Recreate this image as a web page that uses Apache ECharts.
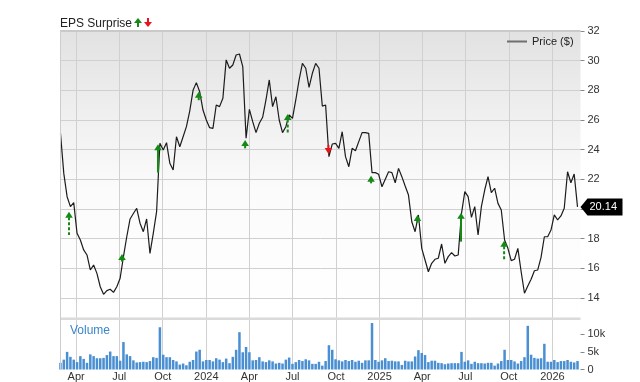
<!DOCTYPE html>
<html><head><meta charset="utf-8">
<script src="https://cdn.jsdelivr.net/npm/echarts@6/dist/echarts.min.js"></script>
<style>html,body{margin:0;padding:0;background:#fff}#c{width:640px;height:382px}</style>
</head><body><div id="c"></div>
<script>
// ---- data ----
const firstWeek = '2023-02-27';   // weekly observations start here
const prices = [
 25.1,22.4,20.83,20.16,20.43,18.36,17.91,17.24,16.9,15.89,
 16.22,15.66,14.76,14.25,14.5,14.59,14.38,14.76,15.33,16.79,
 18.13,19.33,19.7,20.05,19.04,18.47,19.33,17.01,18.36,19.82,
 24.43,23.98,24.47,23.08,22.63,24.87,24.2,24.87,25.55,26.6,
 28.0,28.52,27.91,26.67,26.0,25.48,25.44,27.01,26.9,27.46,
 30.05,29.49,29.71,30.38,30.45,29.6,24.77,26.72,25.89,25.15,
 25.78,26.18,27.35,28.7,26.9,27.57,26.0,25.15,25.55,26.34,
 26.11,27.35,28.7,29.82,29.49,28.2,29.15,29.82,29.49,26.94,
 27.01,23.53,24.38,24.43,24.09,25.21,23.53,22.85,24.09,23.93,
 24.54,25.15,25.15,25.1,22.45,22.45,22.34,21.5,22.0,22.51,
 22.45,21.77,22.74,22.18,21.55,20.94,19.14,18.47,19.6,17.35,
 16.56,15.77,16.34,16.61,16.68,17.64,16.34,16.79,17.06,16.83,
 16.9,19.71,21.17,20.83,19.44,20.16,18.25,20.16,21.28,22.18,
 21.1,21.4,20.38,19.93,17.91,17.35,16.52,16.61,17.35,15.77,
 14.32,14.81,15.26,15.84,15.89,16.74,18.13,18.13,18.58,19.6,
 19.26,19.53,20.05,22.51,21.77,22.36,20.14
];
const volumesK = [
 1.9,2.8,5.0,3.6,2.8,2.1,3.8,3.0,1.9,4.3,
 3.8,3.2,3.2,3.3,4.1,5.1,3.8,3.8,2.5,7.8,
 4.3,3.8,2.6,2.0,2.1,2.2,2.1,2.4,3.5,3.3,
 12.0,4.2,3.5,3.5,2.7,2.3,1.4,1.7,1.2,2.2,
 2.7,5.1,5.6,2.3,2.7,2.7,2.3,3.2,2.8,2.1,
 3.1,1.8,3.6,5.6,10.6,4.9,6.4,4.9,2.6,2.7,
 3.5,2.3,2.1,2.6,2.3,1.7,1.9,1.7,2.8,3.4,
 1.6,2.1,2.7,2.4,2.9,2.6,1.6,1.6,2.2,
 1.1,2.4,6.9,5.6,2.9,2.6,2.3,2.7,2.4,2.7,2.2,2.5,1.9,2.6,2.6,
 13.2,
 2.7,2.2,2.6,3.2,2.4,2.5,2.3,2.3,1.3,2.5,
 2.3,2.3,3.7,5.5,4.7,4.1,2.1,2.5,2.5,1.9,
 1.8,1.5,1.7,1.8,1.8,1.8,5.0,2.2,2.6,1.6,
 2.2,1.8,1.8,1.7,1.9,1.9,1.1,1.7,2.4,5.6,
 2.7,2.7,2.3,1.7,2.4,3.5,12.4,4.2,3.3,3.1,3.2,
 7.3,
 2.2,2.2,2.7,2.1,2.4,2.4,2.7,2.2,2.0,2.4
];
const xTickDates = ['2023-04-01','2023-07-01','2023-10-01','2024-01-01','2024-04-01','2024-07-01',
                    '2024-10-01','2025-01-01','2025-04-01','2025-07-01','2025-10-01','2026-01-01'];
const xTickLabels = ['Apr','Jul','Oct','2024','Apr','Jul','Oct','2025','Apr','Jul','Oct','2026'];
const priceTicks = [14,16,18,20,22,24,26,28,30,32];
const volumeTicks = [0,5,10];
const volumeTickLabels = ['0','5k','10k'];
// EPS surprise arrows
const epsDates  = ['2023-03-17','2023-07-07','2023-09-21','2023-12-16','2024-03-23','2024-06-21',
                   '2024-09-15','2024-12-14','2025-03-22','2025-06-22','2025-09-21'];
const epsTip    = [19.82,16.97,24.36,27.91,24.65,26.4,23.71,22.25,19.6,19.75,17.86];
const epsBase   = [18.25,16.45,22.45,27.3,24.09,25.15,24.31,21.73,19.08,17.8,16.56];
const epsDir    = [1,1,1,1,1,1,-1,1,1,1,1];      // 1 = beat (up), -1 = miss (down)
const epsDashed = [1,0,0,1,1,1,0,0,0,0,1];

// ---- helpers ----
function ts(s){const a=s.split('-').map(Number);return new Date(a[0],a[1]-1,a[2]).getTime();}
const f0 = firstWeek.split('-').map(Number);
const weekDates = prices.map((_,i)=>new Date(f0[0],f0[1]-1,f0[2]+7*i).getTime());
const priceData = prices.map((v,i)=>[weekDates[i],v]);
const volData = volumesK.map((v,i)=>[weekDates[i],v]);
const xTicks = xTickDates.map(ts);
const xLabelMap = {}; xTicks.forEach((t,i)=>xLabelMap[t]=xTickLabels[i]);
const epsData = epsDates.map((d,i)=>[ts(d),epsTip[i],epsBase[i],epsDir[i],epsDashed[i]]);
const xMin = ts('2023-02-26'), xMax = new Date(2026,2,1,8).getTime();

const FONT = '"Liberation Sans", Arial, sans-serif';
const gridCol = '#d0d0d0';
const chart = echarts.init(document.getElementById('c'), null, {renderer:'canvas'});

const xBase = {type:'value', min:xMin, max:xMax, scale:true,
  axisLine:{show:false}, axisTick:{show:false, customValues:xTicks},
  splitLine:{show:true, lineStyle:{color:gridCol, width:1}}};

chart.setOption({
  animation:false,
  textStyle:{fontFamily:FONT},
  title:{text:'EPS Surprise', left:60, top:18, padding:0,
    textStyle:{fontSize:12, fontWeight:'normal', color:'#222', fontFamily:FONT}},
  legend:{data:[{name:'Price ($)', icon:'rect', itemStyle:{color:'#6f6f6f'}}],
    left:507, top:36, padding:0, itemWidth:20, itemHeight:2, itemGap:5,
    textStyle:{fontSize:11, color:'#222', fontFamily:FONT}},
  grid:[
    {left:60, top:31, width:520.5, height:287, show:true, borderWidth:0, containLabel:false, outerBoundsMode:'none',
     backgroundColor:{type:'linear',x:0,y:0,x2:0,y2:1,colorStops:[{offset:0,color:'#e2e2e2'},{offset:0.55,color:'#fbfbfb'},{offset:1,color:'#ffffff'}]}},
    {left:60, top:320, width:520.5, height:49.5, show:true, borderWidth:0, containLabel:false, outerBoundsMode:'none', backgroundColor:'#fff'}
  ],
  xAxis:[
    Object.assign({}, xBase, {gridIndex:0, axisLabel:{show:false, customValues:xTicks}}),
    Object.assign({}, xBase, {gridIndex:1, axisLabel:{show:true, customValues:xTicks, margin:2,
      showMinLabel:true, showMaxLabel:true, hideOverlap:false,
      fontSize:11, color:'#333', fontFamily:FONT, formatter:v=>xLabelMap[v]||''}})
  ],
  yAxis:[
    {gridIndex:0, type:'value', position:'right', min:12.652, max:32,
     axisLine:{show:false},
     axisTick:{show:true, length:4, customValues:priceTicks, lineStyle:{color:'#888'}},
     axisLabel:{customValues:priceTicks, margin:7, fontSize:11, color:'#333', fontFamily:FONT},
     splitLine:{show:true, lineStyle:{color:gridCol, width:1}}},
    {gridIndex:1, type:'value', position:'right', min:0, max:14.06,
     axisLine:{show:false},
     axisTick:{show:true, length:4, customValues:volumeTicks, lineStyle:{color:'#888'}},
     axisLabel:{customValues:volumeTicks, margin:7, fontSize:11, color:'#333', fontFamily:FONT,
       formatter:v=>{const i=volumeTicks.indexOf(v);return i>=0?volumeTickLabels[i]:'';}},
     splitLine:{show:false}}
  ],
  graphic:[
    {type:'rect', z:100, shape:{x:60, y:30, width:520.5, height:2}, style:{fill:'#c9c9c9'}},
    {type:'rect', z:100, shape:{x:60, y:317.5, width:520.5, height:2.5}, style:{fill:'#dadada'}},
    {type:'line', z:100, shape:{x1:60.5, y1:31, x2:60.5, y2:370}, style:{stroke:'#cdcdcd', lineWidth:1}},
    {type:'text', z:100, left:70, top:325, style:{text:'Volume', fill:'#3a86cc', font:'12px '+FONT}},
    {type:'group', z:100, children:[
      {type:'polygon', shape:{points:[[138,18],[134,23],[142,23]]}, style:{fill:'#138a13'}},
      {type:'rect', shape:{x:137, y:22.5, width:2, height:4.5}, style:{fill:'#138a13'}},
      {type:'polygon', shape:{points:[[148,27],[144,22],[152,22]]}, style:{fill:'#e8141b'}},
      {type:'rect', shape:{x:147, y:18, width:2, height:4.5}, style:{fill:'#e8141b'}}
    ]}
  ],
  series:[
    {name:'Price ($)', type:'line', xAxisIndex:0, yAxisIndex:0, data:priceData,
     showSymbol:false, symbol:'none', z:5,
     lineStyle:{color:'#1c1c1c', width:1.2}, itemStyle:{color:'#1c1c1c'}},
    {name:'Volume', type:'bar', xAxisIndex:1, yAxisIndex:1, data:volData,
     barWidth:2.5, itemStyle:{color:'#4a8fd1'}},
    {name:'EPS', type:'custom', xAxisIndex:0, yAxisIndex:0, data:epsData, z:10, clip:false,
     encode:{x:0, y:[1,2]},
     renderItem:function(params, api){
       const pTip = api.coord([api.value(0), api.value(1)]);
       const pBase = api.coord([api.value(0), api.value(2)]);
       const x = pTip[0], yTip = pTip[1], yBase = pBase[1];
       const dir = api.value(3) > 0 ? 1 : -1;
       const color = dir > 0 ? '#138a13' : '#e8141b';
       const headH = 6, headW = 3.8;
       const ch = [];
       const s0 = yTip + dir*(headH-0.5);
       if ((yBase - s0)*dir > 0) {
         ch.push({type:'line', shape:{x1:x, y1:s0, x2:x, y2:yBase},
           style:{stroke:color, lineWidth:2, lineDash: api.value(4) ? [3,2] : null}});
       }
       ch.push({type:'polygon', shape:{points:[[x,yTip],[x-headW,yTip+dir*headH],[x+headW,yTip+dir*headH]]}, style:{fill:color}});
       return {type:'group', children:ch};
     }},
    {name:'Last', type:'custom', xAxisIndex:0, yAxisIndex:0, z:30, zlevel:1, clip:false,
     data:[[weekDates[weekDates.length-1], prices[prices.length-1]]],
     renderItem:function(params, api){
       const p = api.coord([api.value(0), api.value(1)]);
       const cs = params.coordSys;
       const x0 = cs.x + cs.width, y = p[1];
       return {type:'group', children:[
         {type:'polygon', shape:{points:[[x0,y],[x0+7,y-8.5],[x0+42,y-8.5],[x0+42,y+8.5],[x0+7,y+8.5]]}, style:{fill:'#000'}},
         {type:'text', style:{text:api.value(1).toFixed(2), x:x0+9, y:y, align:'left', verticalAlign:'middle',
           fill:'#fff', font:'11px '+FONT}}
       ]};
     }}
  ]
});
</script></body></html>
